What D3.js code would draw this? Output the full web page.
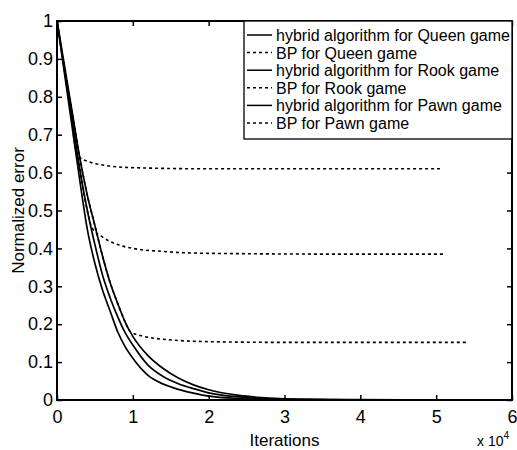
<!DOCTYPE html>
<html>
<head>
<meta charset="utf-8">
<title>Normalized error</title>
<script src="https://cdn.jsdelivr.net/npm/d3@7"></script>
<style>
body { margin: 0; background: #fff; }
text { font-family: Arial, "Liberation Sans", sans-serif; fill: #000; }
</style>
</head>
<body>
<script>
// iterations are in units of 10^4
var hybridX = [0, 0.1, 0.2, 0.3, 0.4, 0.5, 0.6, 0.7, 0.8, 0.9, 1.0, 1.2, 1.4, 1.6, 1.8, 2.0, 2.4, 2.8, 3.2, 4.0, 5.3];
var hybridQueen = [1, 0.88, 0.76, 0.64, 0.54, 0.46, 0.38, 0.31, 0.255, 0.205, 0.168, 0.117, 0.083, 0.058, 0.040, 0.027, 0.012, 0.005, 0.002, 0.001, 0];
var hybridRook  = [1, 0.87, 0.74, 0.61, 0.50, 0.41, 0.33, 0.27, 0.22, 0.177, 0.145, 0.092, 0.062, 0.043, 0.030, 0.019, 0.008, 0.003, 0.0015, 0.0005, 0];
var hybridPawn  = [1, 0.86, 0.72, 0.58, 0.45, 0.36, 0.29, 0.235, 0.18, 0.14, 0.11, 0.065, 0.042, 0.028, 0.018, 0.010, 0.004, 0.002, 0.001, 0, 0];

var bpQueenX = [0, 0.1, 0.2, 0.25, 0.3, 0.4, 0.6, 0.8, 1.2, 2, 3, 4, 5.05];
var bpQueen  = [1, 0.87, 0.73, 0.655, 0.64, 0.63, 0.62, 0.615, 0.612, 0.61, 0.61, 0.61, 0.61];
var bpRookX = [0, 0.1, 0.2, 0.3, 0.4, 0.46, 0.6, 0.8, 1.0, 1.4, 1.75, 2.5, 3.5, 5.12];
var bpRook  = [1, 0.87, 0.74, 0.61, 0.50, 0.455, 0.43, 0.41, 0.40, 0.392, 0.388, 0.386, 0.385, 0.385];
var bpPawnX = [0, 0.1, 0.2, 0.3, 0.4, 0.5, 0.6, 0.7, 0.8, 0.9, 0.96, 1.1, 1.22, 1.6, 2.0, 3.0, 4.0, 5.4];
var bpPawn  = [1, 0.88, 0.76, 0.64, 0.54, 0.46, 0.38, 0.31, 0.255, 0.205, 0.182, 0.17, 0.165, 0.157, 0.154, 0.152, 0.152, 0.152];

var xTicks = [0, 1, 2, 3, 4, 5, 6];
var yTicks = [0, 0.1, 0.2, 0.3, 0.4, 0.5, 0.6, 0.7, 0.8, 0.9, 1];
var legendLabels = ["hybrid algorithm for Queen game", "BP for Queen game",
  "hybrid algorithm for Rook game", "BP for Rook game",
  "hybrid algorithm for Pawn game", "BP for Pawn game"];

var width = 517, height = 450;
var padL = 57, padR = 512, padT = 21, padB = 400;

var svg = d3.select('body').append('svg').attr('width', width).attr('height', height);

var x = d3.scaleLinear().domain([0, 6]).range([padL, padR]);
var y = d3.scaleLinear().domain([0, 1]).range([padB, padT]);

var series = [
  {xs: hybridX, ys: hybridQueen, dash: null},
  {xs: bpQueenX, ys: bpQueen, dash: '3,3'},
  {xs: hybridX, ys: hybridRook, dash: null},
  {xs: bpRookX, ys: bpRook, dash: '3,3'},
  {xs: hybridX, ys: hybridPawn, dash: null},
  {xs: bpPawnX, ys: bpPawn, dash: '3,3'}
];

var line = d3.line().x(function(d){ return x(d[0]); }).y(function(d){ return y(d[1]); })
  .curve(d3.curveMonotoneX);

svg.append('g').selectAll('path').data(series).enter().append('path')
  .attr('d', function(s){ return line(s.xs.map(function(v, i){ return [v, s.ys[i]]; })); })
  .attr('fill', 'none')
  .attr('stroke', '#000')
  .attr('stroke-width', function(s){ return s.dash ? 1.6 : 1.7; })
  .attr('stroke-dasharray', function(s){ return s.dash; });

// axes, ticks pointing inwards
var fmt = d3.format('');
var gx = svg.append('g').attr('transform', 'translate(0,' + padB + ')')
  .call(d3.axisBottom(x).tickValues(xTicks).tickSizeInner(-5).tickSizeOuter(0).tickPadding(10).tickFormat(fmt));
var gy = svg.append('g').attr('transform', 'translate(' + padL + ',0)')
  .call(d3.axisLeft(y).tickValues(yTicks).tickSizeInner(-5).tickSizeOuter(0).tickPadding(4).tickFormat(fmt));
var gt = svg.append('g').attr('transform', 'translate(0,' + padT + ')')
  .call(d3.axisTop(x).tickValues(xTicks).tickSizeInner(-5).tickSizeOuter(0).tickFormat(''));
var gr = svg.append('g').attr('transform', 'translate(' + padR + ',0)')
  .call(d3.axisRight(y).tickValues(yTicks).tickSizeInner(-5).tickSizeOuter(0).tickFormat(''));

[gx, gy, gt, gr].forEach(function(g){
  g.select('.domain').remove();
  g.selectAll('line').attr('stroke', '#000').attr('stroke-width', 1.5);
  g.selectAll('text').attr('font-size', 18).attr('font-family', 'Arial, "Liberation Sans", sans-serif').attr('fill', '#000');
});

svg.append('rect').attr('x', padL).attr('y', padT)
  .attr('width', padR - padL).attr('height', padB - padT)
  .attr('fill', 'none').attr('stroke', '#000').attr('stroke-width', 2);

// legend
var lg = svg.append('g');
lg.append('rect').attr('x', 244).attr('y', padT).attr('width', padR - 244).attr('height', 118)
  .attr('fill', '#fff').attr('stroke', '#000').attr('stroke-width', 1.3);
var rows = lg.selectAll('g.row').data(legendLabels).enter().append('g')
  .attr('transform', function(d, i){ return 'translate(0,' + (35 + i * 17.6) + ')'; });
rows.append('line').attr('x1', 247).attr('x2', 272).attr('y1', 0).attr('y2', 0)
  .attr('stroke', '#000').attr('stroke-width', 1.5)
  .attr('stroke-dasharray', function(d, i){ return series[i].dash; });
rows.append('text').attr('x', 276).attr('y', 6).attr('font-size', 16).text(function(d){ return d; });

// axis labels
svg.append('text').attr('x', (padL + padR) / 2).attr('y', 446).attr('text-anchor', 'middle')
  .attr('font-size', 17).text('Iterations');
svg.append('text').attr('transform', 'translate(24,' + (padT + padB) / 2 + ') rotate(-90)')
  .attr('text-anchor', 'middle').attr('font-size', 17).text('Normalized error');
var ex = svg.append('text').attr('x', 477).attr('y', 446).attr('font-size', 14);
ex.append('tspan').text('x 10');
ex.append('tspan').attr('dy', -7).attr('font-size', 10).text('4');
</script>
</body>
</html>
